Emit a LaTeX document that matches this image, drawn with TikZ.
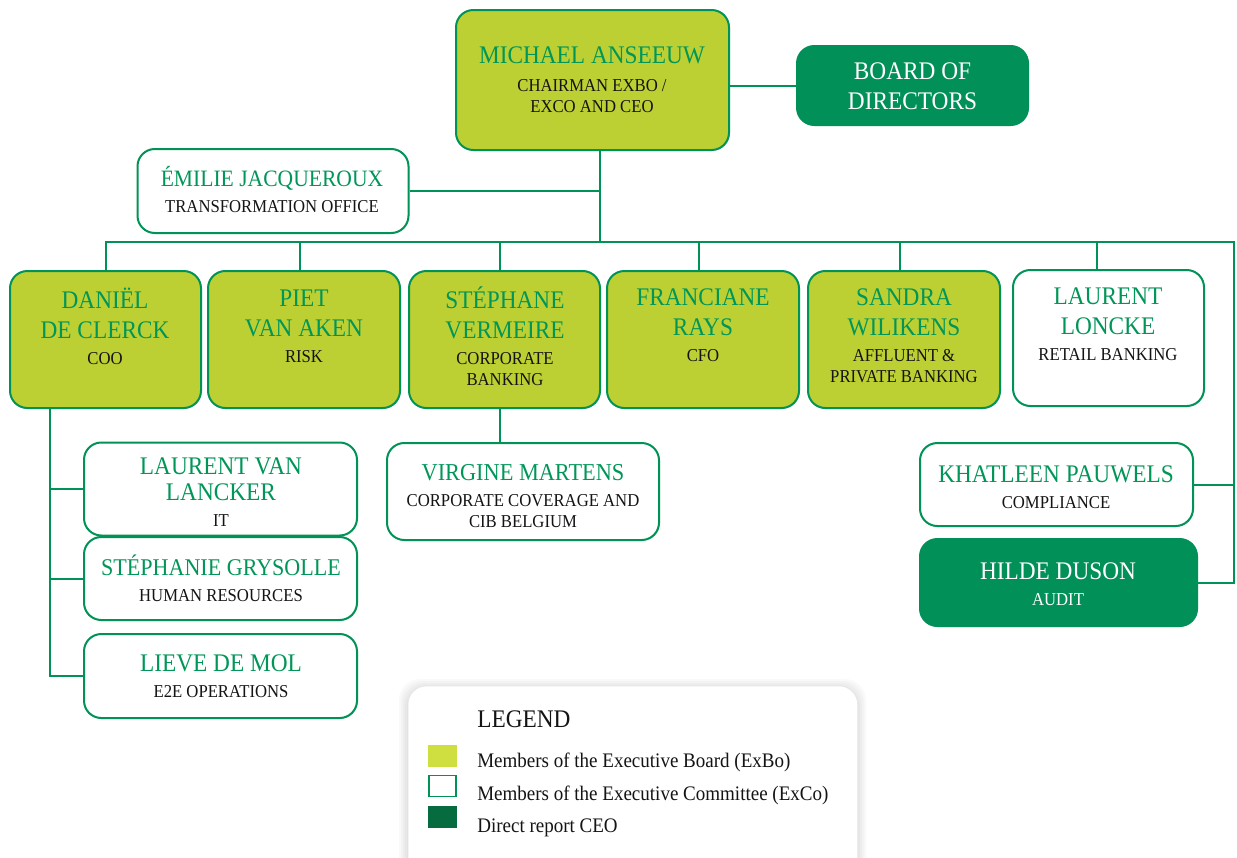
\documentclass[tikz,border=0pt]{standalone}
\usepackage{fontspec}
\setmainfont{Liberation Serif}[FakeStretch=0.92]
\usetikzlibrary{shadows}
\definecolor{mg}{RGB}{0,146,86}
\definecolor{ntext}{RGB}{0,150,88}
\definecolor{lgreen}{RGB}{189,208,51}
\definecolor{dgreen}{RGB}{0,144,88}
\definecolor{rtext}{RGB}{20,20,20}
\definecolor{swlight}{RGB}{206,223,63}
\definecolor{swdark}{RGB}{6,107,63}
\newcommand\NmF{\fontsize{19}{22}\selectfont}
\newcommand\RlF{\fontsize{13.6}{15.5}\selectfont}
\newcommand\Nm[1]{{\color{ntext}\NmF #1}}
\newcommand\NmS[2]{{\color{ntext}\fontsize{#1}{22}\selectfont #2}}
\newcommand\Nw[1]{{\color{white}\NmF #1}}
\tikzset{
  x=0.75pt, y=-0.75pt,
  sz/.style 2 args={minimum width=#1*0.75pt, minimum height=#2*0.75pt},
  box/.style={draw=mg, line width=1.5pt, rounded corners=13pt, inner sep=0pt,
    drop shadow={opacity=0.12, shadow xshift=0.8pt, shadow yshift=-0.8pt}},
  exbo/.style={box, fill=lgreen},
  exco/.style={box, fill=white},
  direct/.style={box, draw=dgreen, fill=dgreen},
  txt/.style={align=center, font=\RlF, text=rtext, inner sep=0pt},
  conn/.style={draw=mg, line width=1.5pt},
  lgtxt/.style={anchor=west, font=\fontsize{15.5}{17}\selectfont, text=rtext, inner sep=0pt},
}
\begin{document}
\begin{tikzpicture}
\useasboundingbox (0,0) rectangle (1237,857);
% coordinates for connector routes
\coordinate (trunk) at (600,242);
\coordinate (busR) at (1234,242);
\coordinate (spine) at (50,242);
\coordinate (vx) at (500,242);

% top
\node[exbo, sz={273}{140}] (ceo) at (592.5,80) {};
\node[txt] (ceoT) at (592,80) {\Nm{MICHAEL ANSEEUW}\\[5.5pt] CHAIRMAN EXBO /\\ EXCO AND CEO};
\node[direct, sz={231}{79}] (board) at (912.5,85.5) {};
\node[txt] (boardT) at (912.5,86) {\Nw{BOARD OF}\\[7pt] \Nw{DIRECTORS}};
\node[exco, sz={271}{84}] (emi) at (273,191) {};
\node[txt] (emiT) at (272,190) {\NmS{17.6}{ÉMILIE JACQUEROUX}\\[4pt] TRANSFORMATION OFFICE};

% row of executive board
\node[exbo, sz={191}{137}] (dan) at (105.5,339.5) {};
\node[txt] (danT) at (105,326) {\Nm{DANIËL}\\[7pt] \Nm{DE CLERCK}\\[4pt] COO};
\node[exbo, sz={192}{137}] (piet) at (304,339.5) {};
\node[txt] (pietT) at (304,326) {\Nm{PIET}\\[7pt] \Nm{VAN AKEN}\\[4pt] RISK};
\node[exbo, sz={191}{137}] (stv) at (504.5,339.5) {};
\node[txt] (stvT) at (505,336) {\Nm{STÉPHANE}\\[7pt] \Nm{VERMEIRE}\\[4pt] CORPORATE\\ BANKING};
\node[exbo, sz={192}{137}] (fra) at (703,339.5) {};
\node[txt] (fraT) at (703,325) {\Nm{FRANCIANE}\\[7pt] \Nm{RAYS}\\[4pt] CFO};
\node[exbo, sz={192}{137}] (san) at (904,339.5) {};
\node[txt] (sanT) at (904,336) {\Nm{SANDRA}\\[7pt] \Nm{WILIKENS}\\[4pt] AFFLUENT \&\\ PRIVATE BANKING};
\node[exco, sz={191}{136}] (llo) at (1108.5,338) {};
\node[txt] (lloT) at (1108,324) {\Nm{LAURENT}\\[7pt] \Nm{LONCKE}\\[4pt] RETAIL BANKING};

% COO reports
\node[exco, sz={273}{93}] (lvl) at (220.5,489) {};
\node[txt] (lvlT) at (221,492) {\Nm{LAURENT VAN}\\[4pt] \Nm{LANCKER}\\[4pt] IT};
\node[exco, sz={273}{83}] (sg) at (220.5,578.5) {};
\node[txt] (sgT) at (221,578) {\NmS{18}{STÉPHANIE GRYSOLLE}\\[4pt] HUMAN RESOURCES};
\node[exco, sz={273}{84}] (lie) at (220.5,676) {};
\node[txt] (lieT) at (221,676) {\Nm{LIEVE DE MOL}\\[4pt] E2E OPERATIONS};

% corporate banking report
\node[exco, sz={272}{97}] (vm) at (523,491.5) {};
\node[txt] (vmT) at (523,496) {\NmS{18.2}{VIRGINE MARTENS}\\[4pt] CORPORATE COVERAGE AND\\ CIB BELGIUM};

% right side
\node[exco, sz={273}{83}] (kha) at (1056.5,484.5) {};
\node[txt] (khaT) at (1056,487) {\Nm{KHATLEEN PAUWELS}\\[4pt] COMPLIANCE};
\node[direct, sz={277}{87}] (hil) at (1058.5,582.5) {};
\node[txt, text=white] (hilT) at (1058,584) {\Nw{HILDE DUSON}\\[4pt] AUDIT};

% connectors
\draw[conn] (ceo.south -| trunk) -- (trunk);
\draw[conn] (ceo.east |- board.west) -- (board.west);
\draw[conn] (emi.east) -- (emi.east -| trunk);
\draw[conn] (dan.north) |- (busR) |- (hil.east);
\draw[conn] (piet.north -| 300,0) -- (trunk -| 300,0);
\draw[conn] (stv.north -| vx) -- (vx);
\draw[conn] (fra.north -| 699,0) -- (trunk -| 699,0);
\draw[conn] (san.north -| 900,0) -- (trunk -| 900,0);
\draw[conn, line width=2pt] (llo.north -| 1097,0) -- (trunk -| 1097,0);
\draw[conn] (kha.east) -- (kha.east -| busR);
\draw[conn] (dan.south -| spine) |- (lie.west);
\draw[conn] (lvl.west) -- (lvl.west -| spine);
\draw[conn] (sg.west) -- (sg.west -| spine);
\draw[conn] (stv.south -| vx) -- (vm.north -| vx);

% legend (soft shadow, then the panel)
\foreach \e in {9,7,5,3,1}
  \fill[black, opacity=0.025, rounded corners=16pt] (408-\e,686-\e+2) rectangle (857+\e,900);
\node[fill=white, rounded corners=14pt, minimum width=449*0.75pt, minimum height=200*0.75pt,
  inner sep=0pt, anchor=north west] (leg) at (408,686) {};
\node[anchor=west, font=\fontsize{19}{22}\selectfont, text=rtext, inner sep=0pt] (legT) at (477,719) {LEGEND};
\node[fill=swlight, minimum width=29*0.75pt, minimum height=22*0.75pt, inner sep=0pt] (sw1) at (442.5,756) {};
\node[draw=mg, line width=1.2pt, fill=white, minimum width=27*0.75pt, minimum height=21*0.75pt, inner sep=0pt] (sw2) at (442.5,786) {};
\node[fill=swdark, minimum width=29*0.75pt, minimum height=22*0.75pt, inner sep=0pt] (sw3) at (442.5,817) {};
\node[lgtxt] (l1) at (477,762) {Members of the Executive Board (ExBo)};
\node[lgtxt] (l2) at (477,795) {Members of the Executive Committee (ExCo)};
\node[lgtxt] (l3) at (477,828) {Direct report CEO};
\end{tikzpicture}
\end{document}
